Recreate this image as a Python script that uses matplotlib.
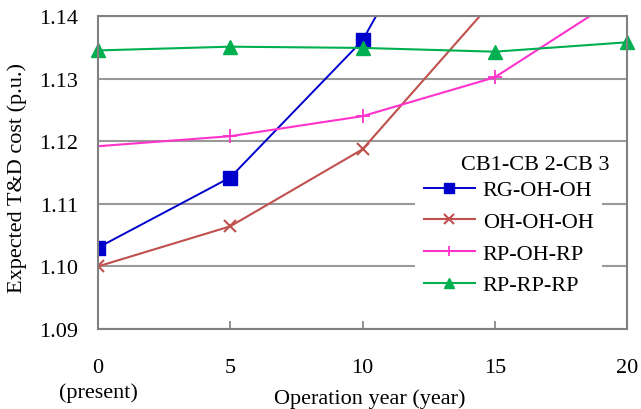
import numpy as np
import matplotlib
matplotlib.use("Agg")
import matplotlib.pyplot as plt

plt.rcParams['font.family'] = ['Liberation Serif', 'DejaVu Serif']

years = [0, 5, 10, 15, 20]
rg_oh_oh = [1.1030, 1.1142, 1.1361, 1.174, 1.21]
oh_oh_oh = [1.1000, 1.1064, 1.1187, 1.1427, 1.17]
rp_oh_rp = [1.1192, 1.1208, 1.1240, 1.1302, 1.1438]
rp_rp_rp = [1.1345, 1.1351, 1.1349, 1.1343, 1.1358]
xtick_labels = ['0\n(present)', '5', '10', '15', '20']

fig = plt.figure(figsize=(6.41, 4.10), dpi=100)
ax = fig.add_axes([98/641, 80/410, 529/641, 313/410])

ax.plot(years, rg_oh_oh, color='#0000CC', lw=1.4, marker='s', ms=10,
        label='RG-OH-OH')
ax.plot(years, oh_oh_oh, color='#C0504D', lw=1.5, marker='x', ms=9, mew=1.5,
        label='OH-OH-OH')
ax.plot(years, rp_oh_rp, color='#FF33CC', lw=1.5, marker='+', ms=10, mew=1.3,
        label='RP-OH-RP')
ax.plot(years, rp_rp_rp, color='#00B050', lw=1.5, marker='^', ms=10,
        label='RP-RP-RP', clip_on=False)

ax.set_xlim(0, 20)
ax.set_ylim(1.09, 1.14)
ax.set_xticks(years)
ax.set_xticklabels(xtick_labels)
for t in ax.get_xticklabels():
    t.set_linespacing(1.35)
ax.set_yticks([1.09, 1.10, 1.11, 1.12, 1.13, 1.14])
ax.set_yticklabels(['1.09', '1.10', '1.11', '1.12', '1.13', '1.14'])
ax.tick_params(axis='x', direction='in', length=6, width=1.2, color='#808080',
               labelsize=16, pad=21)
ax.tick_params(axis='y', length=0, labelsize=16, pad=14.5)
ax.grid(axis='y', color='#999999', lw=1.5)
ax.set_axisbelow(True)
for s in ax.spines.values():
    s.set_color('#808080')
    s.set_linewidth(1.5)

ax.set_xlabel('Operation year (year)', fontsize=16)
ax.xaxis.set_label_coords(0.514, -0.19)
ax.set_ylabel('Expected T&D cost (p.u.)', fontsize=16)
ax.yaxis.set_label_coords(-0.134, 0.485)

leg = ax.legend(loc='upper left', bbox_to_anchor=(415/641, 1 - 172/410),
                bbox_transform=fig.transFigure, fontsize=16, markerscale=0.75,
                frameon=True, fancybox=False, framealpha=1, edgecolor='none',
                handlelength=2.3, handletextpad=0.35, labelspacing=0.5,
                borderaxespad=0, borderpad=0.4)
leg.set_zorder(5)
fig.text(535/641, 1 - 165/410, 'CB1-CB 2-CB 3', fontsize=16,
         ha='center', va='center', zorder=6)

fig.savefig('out.png', dpi=100)
